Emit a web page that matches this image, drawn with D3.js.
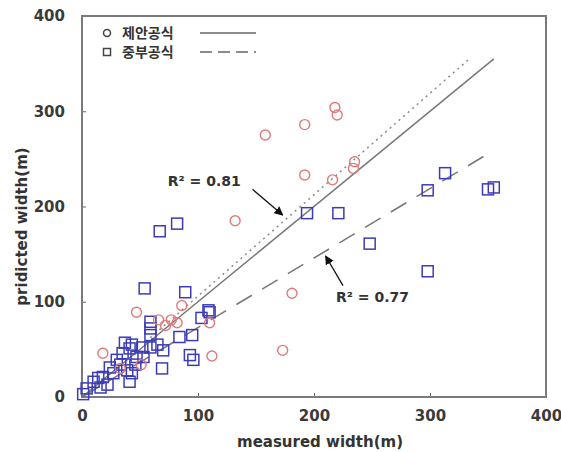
<!DOCTYPE html>
<html>
<head>
<meta charset="utf-8">
<script src="https://cdn.jsdelivr.net/npm/d3@7"></script>
<style>
  body { margin: 0; background: #fff; }
  svg { display: block; }
  .tick text { font-family: "DejaVu Sans", sans-serif; font-weight: bold; font-size: 15px; fill: #3a3a3a; }
</style>
</head>
<body>
<div id="chart"></div>
<script>
"use strict";

/* values */
const xTicks = [0, 100, 200, 300, 400];
const yTicks = [0, 100, 200, 300, 400];

// 제안공식 (red circles)
const proposedX = [158, 192, 218, 220, 192, 216, 235, 234, 132, 181, 173, 47, 86, 112, 18, 72, 82, 110, 77, 51, 66, 33];
const proposedY = [275, 286, 304, 296, 233, 228, 247, 240, 185, 109, 49, 89, 96, 43, 46, 75, 78, 78, 81, 34, 81, 30];

// 중부공식 (blue squares)
const jungbuX = [194, 221, 313, 298, 350, 355, 298, 248, 67, 82, 54, 89, 109, 110, 103, 95, 84, 59, 59, 59, 70, 93, 96, 69, 43, 52, 59,
  4, 10, 18, 24, 30, 35, 41, 27, 39, 43, 33, 47, 53, 16, 41, 1, 14, 22, 46, 37, 65];
const jungbuY = [193, 193, 235, 217, 218, 220, 132, 161, 174, 182, 114, 110, 91, 89, 83, 65, 63, 79, 72, 65, 49, 44, 39, 30, 55, 52, 52,
  9, 16, 21, 31, 39, 46, 51, 25, 28, 25, 34, 42, 42, 10, 16, 3, 20, 13, 34, 57, 55];

// reference / fitted lines (endpoints in data units)
const oneToOne = [[0, 0], [355, 355]];
const proposedFit = [[55, 58], [333, 354]];
const jungbuFit = [[0, 0], [355, 259]];

const legendNames = ["제안공식", "중부공식"];
const r2Labels = ["R² = 0.81", "R² = 0.77"];

/* layout */
const W = 561, H = 452;
const margin = { top: 16, right: 15, bottom: 55, left: 82 };
const width = W - margin.left - margin.right;
const height = H - margin.top - margin.bottom;

const svg = d3.select("#chart").append("svg")
  .attr("width", W)
  .attr("height", H);

svg.append("defs").append("marker")
  .attr("id", "arrow")
  .attr("viewBox", "0 0 10 10")
  .attr("refX", 9).attr("refY", 5)
  .attr("markerWidth", 7).attr("markerHeight", 7)
  .attr("orient", "auto")
  .append("path")
  .attr("d", "M0,0 L10,5 L0,10 z")
  .attr("fill", "#111");

const g = svg.append("g").attr("transform", `translate(${margin.left},${margin.top})`);

const x = d3.scaleLinear().domain([0, 400]).range([0, width]);
const y = d3.scaleLinear().domain([0, 400]).range([height, 0]);

// axes, ticks pointing inward
g.append("g")
  .attr("transform", `translate(0,${height})`)
  .call(d3.axisBottom(x).tickValues(xTicks).tickSize(-4).tickPadding(13))
  .call(a => a.select(".domain").remove())
  .call(a => a.selectAll("line").attr("stroke", "#666"));

g.append("g")
  .call(d3.axisLeft(y).tickValues(yTicks).tickSize(-4).tickPadding(17))
  .call(a => a.select(".domain").remove())
  .call(a => a.selectAll("line").attr("stroke", "#666"));

// frame
g.append("rect")
  .attr("width", width).attr("height", height)
  .attr("fill", "none")
  .attr("stroke", "#7a7a7a")
  .attr("stroke-width", 2);

const line = d3.line().x(d => x(d[0])).y(d => y(d[1]));

g.append("path").datum(oneToOne).attr("d", line)
  .attr("fill", "none").attr("stroke", "#777").attr("stroke-width", 1.5);
g.append("path").datum(proposedFit).attr("d", line)
  .attr("fill", "none").attr("stroke", "#8a8a8a").attr("stroke-width", 1.5)
  .attr("stroke-dasharray", "2,4");
g.append("path").datum(jungbuFit).attr("d", line)
  .attr("fill", "none").attr("stroke", "#777").attr("stroke-width", 1.5)
  .attr("stroke-dasharray", "18,12");

// points
const proposed = proposedX.map((v, i) => ({ x: v, y: proposedY[i] }));
const jungbu = jungbuX.map((v, i) => ({ x: v, y: jungbuY[i] }));

g.selectAll(".jb")
  .data(jungbu)
  .enter()
  .append("rect")
  .attr("class", "jb")
  .attr("x", d => x(d.x) - 5.5)
  .attr("y", d => y(d.y) - 5.5)
  .attr("width", 11).attr("height", 11)
  .attr("fill", "none")
  .attr("stroke", "#3c3cb8")
  .attr("stroke-width", 1.5);

g.selectAll(".pr")
  .data(proposed)
  .enter()
  .append("circle")
  .attr("class", "pr")
  .attr("cx", d => x(d.x))
  .attr("cy", d => y(d.y))
  .attr("r", 5)
  .attr("fill", "none")
  .attr("stroke", "#e07a7a")
  .attr("stroke-width", 1.4);

// legend
const lg = g.append("g").attr("font-family", "'Noto Sans CJK KR', sans-serif")
  .attr("font-weight", "bold").attr("font-size", 14).attr("fill", "#333");
legendNames.forEach((name, i) => {
  const ly = 17 + i * 19;
  if (i === 0) {
    lg.append("circle").attr("cx", 25).attr("cy", ly).attr("r", 3.5)
      .attr("fill", "none").attr("stroke", "#444").attr("stroke-width", 1.5);
  } else {
    lg.append("rect").attr("x", 21.5).attr("y", ly - 3.5).attr("width", 7).attr("height", 7)
      .attr("fill", "none").attr("stroke", "#444").attr("stroke-width", 1.5);
  }
  lg.append("text").attr("x", 40).attr("y", ly + 5).text(name);
  lg.append("line").attr("x1", 118).attr("x2", 174).attr("y1", ly).attr("y2", ly)
    .attr("stroke", "#666").attr("stroke-width", 1.5)
    .attr("stroke-dasharray", i === 0 ? null : "12,6");
});

// R² annotations
const ann = g.append("g").attr("font-family", "'DejaVu Sans', sans-serif")
  .attr("font-weight", "bold").attr("font-size", 14).attr("fill", "#333");
ann.append("text").attr("x", x(74)).attr("y", y(222)).text(r2Labels[0]);
ann.append("line")
  .attr("x1", x(147)).attr("y1", y(218)).attr("x2", x(173)).attr("y2", y(191))
  .attr("stroke", "#111").attr("stroke-width", 1.3).attr("marker-end", "url(#arrow)");
ann.append("text").attr("x", x(219)).attr("y", y(100)).text(r2Labels[1]);
ann.append("line")
  .attr("x1", x(225)).attr("y1", y(117)).attr("x2", x(210)).attr("y2", y(148))
  .attr("stroke", "#111").attr("stroke-width", 1.3).attr("marker-end", "url(#arrow)");

// axis titles
svg.append("text")
  .attr("x", margin.left + width / 2 + 6)
  .attr("y", 447)
  .attr("text-anchor", "middle")
  .attr("font-family", "'DejaVu Sans', sans-serif")
  .attr("font-weight", "bold").attr("font-size", 15).attr("fill", "#333")
  .text("measured width(m)");

svg.append("text")
  .attr("transform", `translate(27,${margin.top + height / 2 + 20}) rotate(-90)`)
  .attr("text-anchor", "middle")
  .attr("font-family", "'DejaVu Sans', sans-serif")
  .attr("font-weight", "bold").attr("font-size", 15).attr("fill", "#333")
  .text("pridicted width(m)");
</script>
</body>
</html>
